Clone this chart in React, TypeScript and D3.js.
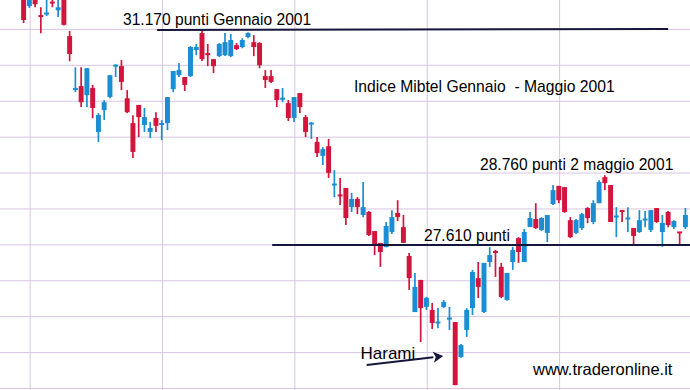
import React, { useEffect } from "react";
import * as d3 from "d3";

// Mibtel daily candles (index points), left to right
const opens = [
  31700, 31550, 31680, 31400, 31420, 31615, 31480, 31690, 31055, 30165,
  30230, 30080, 30200, 29475, 29835, 30050, 30560, 30560, 30030, 29620,
  29920, 29590, 29475, 29705, 29590, 29620, 30180, 30410, 30380, 30395,
  30825, 31105, 30775, 30675, 30725, 30740, 30725, 30905, 30875, 31040,
  30955, 30940, 30395, 30395, 30180, 30015, 29950, 29705, 30115, 29720,
  29605, 29310, 29080, 29240, 28600, 28435, 28550, 28235, 28370, 28105,
  28155, 27840, 27645, 27575, 27825, 28140, 27905, 27430, 26505, 27035,
  26590, 26540, 26325, 26590, 26390, 26340, 25765, 26210, 26570, 27065,
  26505, 27330, 27510, 27250, 26705, 27330, 27725, 27330, 27907, 28040,
  27860, 27810, 28285, 28585, 28565, 28020, 27810, 27890, 28220, 27990,
  28300, 28730, 28600, 28070, 28185, 28040, 27890, 27825, 28020, 27860,
  28220, 27825, 28155, 27905, 27825, 27905,
];
const highs = [
  31750, 31720, 31720, 31530, 31650, 31650, 31650, 31720, 31140, 30540,
  30540, 30530, 30250, 29785, 30000, 30415, 30590, 30660, 30165, 29750,
  29920, 29870, 29640, 29800, 29670, 30050, 30480, 30610, 30380, 30890,
  30925, 31170, 30925, 30675, 30940, 31105, 31090, 30940, 31020, 31120,
  31070, 30955, 30495, 30495, 30180, 30200, 30000, 30050, 30115, 29755,
  29640, 29390, 29225, 29360, 28845, 28715, 28550, 28470, 28400, 28650,
  28170, 27840, 27645, 27990, 28185, 28350, 28105, 27480, 27150, 27035,
  26755, 26655, 26570, 26705, 26590, 26340, 25980, 26570, 27200, 27330,
  27315, 27575, 27530, 27315, 27150, 27580, 27740, 27875, 28155, 28300,
  28070, 28105, 28600, 28585, 28565, 28070, 28040, 28140, 28235, 28350,
  28680, 28760, 28600, 28235, 28185, 28235, 27890, 28185, 28170, 28185,
  28220, 28105, 28170, 28020, 27825, 28220,
];
const lows = [
  31270, 31520, 31530, 31100, 31385, 31530, 31370, 31230, 30640, 30130,
  29885, 29885, 29700, 29310, 29670, 30030, 30380, 30165, 29785, 29045,
  29390, 29475, 29375, 29475, 29340, 29505, 30130, 30380, 30150, 30380,
  30740, 30645, 30560, 30445, 30710, 30725, 30710, 30825, 30855, 31020,
  30725, 30525, 30200, 30280, 29885, 29965, 29655, 29640, 29785, 29390,
  29360, 29060, 28930, 28715, 28400, 28270, 27940, 28155, 28120, 28070,
  27760, 27445, 27250, 27575, 27790, 28005, 27645, 26870, 26505, 26010,
  26540, 26225, 26240, 26570, 26210, 25300, 25750, 26095, 26455, 26735,
  26490, 27250, 27085, 26735, 26690, 27200, 27315, 27330, 27907, 27875,
  27840, 27660, 28270, 28300, 28140, 27725, 27790, 27860, 27970, 27955,
  28300, 28515, 27990, 27740, 27990, 27825, 27610, 27810, 27905, 27825,
  27975, 27580, 27905, 27875, 27625, 27875,
];
const closes = [
  31320, 31680, 31580, 31370, 31435, 31600, 31530, 31240, 30760, 30200,
  29965, 30525, 29870, 29755, 29965, 30410, 30575, 30300, 29800, 29145,
  29720, 29720, 29540, 29575, 29620, 30050, 30480, 30495, 30250, 30875,
  30875, 30675, 30740, 30560, 30925, 30955, 30990, 30840, 30990, 31105,
  30875, 30575, 30330, 30300, 30000, 30030, 29705, 30050, 29885, 29475,
  29620, 29125, 29190, 28800, 28615, 28420, 28055, 28370, 28235, 28235,
  27775, 27595, 27495, 27925, 28070, 28070, 27645, 27065, 26920, 26570,
  26740, 26325, 26340, 26670, 26405, 25300, 25960, 26540, 27165, 26920,
  27315, 27445, 27480, 26755, 27150, 27530, 27495, 27825, 28055, 27890,
  28055, 28105, 28515, 28350, 28155, 27740, 28020, 28120, 28055, 28300,
  28650, 28630, 27990, 28090, 28155, 28055, 27760, 28020, 28040, 28185,
  27990, 27975, 27940, 28005, 27810, 28105,
];

// Month separators (candle index) and levels
const monthLineIdx = [1, 24, 47, 70, 93, 116];
const gridTop = 31165;
const gridStep = 592;
const levelHigh = 31170;
const levelSupport = 27610;
const levelMay = 28760;

const title = "Indice Mibtel Gennaio  - Maggio 2001";
const labelHigh = "31.170 punti Gennaio 2001";
const labelMay = "28.760 punti 2 maggio 2001";
const labelSupport = "27.610 punti";
const labelHarami = "Harami";
const site = "www.traderonline.it";

const W = 690;
const H = 390;
const RED = "#d3153d";
const BLUE = "#1b8dd3";
const GRID = "#d8c6e4";
const INK = "#15163a";
const FONT = "'Liberation Sans', Arial, sans-serif";

export default function App() {
  useEffect(() => {
    document.body.style.margin = "0";
  }, []);

  const n = opens.length;
  const x = d3.scaleLinear().domain([0, n - 1]).range([23.6, 685.4]);
  const y = d3.scaleLinear().domain([25220, 31650]).range([H, 0]);
  const step = x(1) - x(0);
  const bw = step * 0.86;

  const gridVals = d3.range(0, 11).map((k) => gridTop - k * gridStep);

  const haramiIdx = 75;
  const arrowTip: [number, number] = [x(haramiIdx) - 12, y(26010) + 14];
  const arrowTail: [number, number] = [x(haramiIdx) - 88.5, y(26010) + 23];
  const ang = Math.atan2(arrowTip[1] - arrowTail[1], arrowTip[0] - arrowTail[0]);
  const headLen = 10;
  const headW = 5.5;
  const hb: [number, number] = [arrowTip[0] - headLen * Math.cos(ang), arrowTip[1] - headLen * Math.sin(ang)];
  const head = [
    arrowTip,
    [hb[0] + headW * Math.sin(ang), hb[1] - headW * Math.cos(ang)],
    [hb[0] + 2.5 * Math.cos(ang), hb[1] + 2.5 * Math.sin(ang)],
    [hb[0] - headW * Math.sin(ang), hb[1] + headW * Math.cos(ang)],
  ];

  return (
    <svg
      width={W}
      height={H}
      viewBox={`0 0 ${W} ${H}`}
      style={{ display: "block", position: "absolute", left: 0, top: 0, background: "#fff" }}
    >
      <rect x={0} y={0} width={W} height={H} fill="#fff" />
      <g>
        {gridVals.map((v, i) => (
          <line key={"h" + i} x1={0} x2={W} y1={y(v)} y2={y(v)} stroke={GRID} strokeWidth={1} />
        ))}
        {monthLineIdx.map((m, i) => (
          <line key={"v" + i} x1={x(m) + 0.8} x2={x(m) + 0.8} y1={0} y2={H} stroke={GRID} strokeWidth={1} />
        ))}
      </g>

      <g>
        {opens.map((o, i) => {
          const c = closes[i];
          const up = c >= o;
          const col = up ? BLUE : RED;
          const cx = x(i);
          const top = y(Math.max(o, c));
          const bot = y(Math.min(o, c));
          const h = Math.max(bot - top, 2);
          return (
            <g key={i}>
              <line x1={cx} x2={cx} y1={y(highs[i])} y2={y(lows[i])} stroke={col} strokeWidth={1.7} />
              <rect x={cx - bw / 2} y={(top + bot) / 2 - h / 2} width={bw} height={h} fill={col} />
            </g>
          );
        })}
      </g>

      <g>
        <line x1={x(23.2)} x2={x(112)} y1={y(levelHigh) + 0.8} y2={y(levelHigh) - 0.2} stroke={INK} strokeWidth={2} />
        <line x1={x(43.2)} x2={W} y1={y(levelSupport)} y2={y(levelSupport)} stroke={INK} strokeWidth={2} />
        <line x1={arrowTail[0]} y1={arrowTail[1]} x2={hb[0]} y2={hb[1]} stroke={INK} strokeWidth={2} />
        <polygon points={head.map((p) => p.join(",")).join(" ")} fill={INK} />
      </g>

      <g fontFamily={FONT} fill="#000">
        <text x={123} y={y(levelHigh) - 4.5} fontSize={15.6}>{labelHigh}</text>
        <text x={354} y={92} fontSize={15.7} style={{ whiteSpace: "pre" }}>{title}</text>
        <text x={480} y={y(levelMay) - 5} fontSize={15.6}>{labelMay}</text>
        <text x={424} y={y(levelSupport) - 4} fontSize={15.6}>{labelSupport}</text>
        <text x={360.5} y={359} fontSize={17}>{labelHarami}</text>
        <text x={533} y={375} fontSize={16.5}>{site}</text>
      </g>
    </svg>
  );
}
